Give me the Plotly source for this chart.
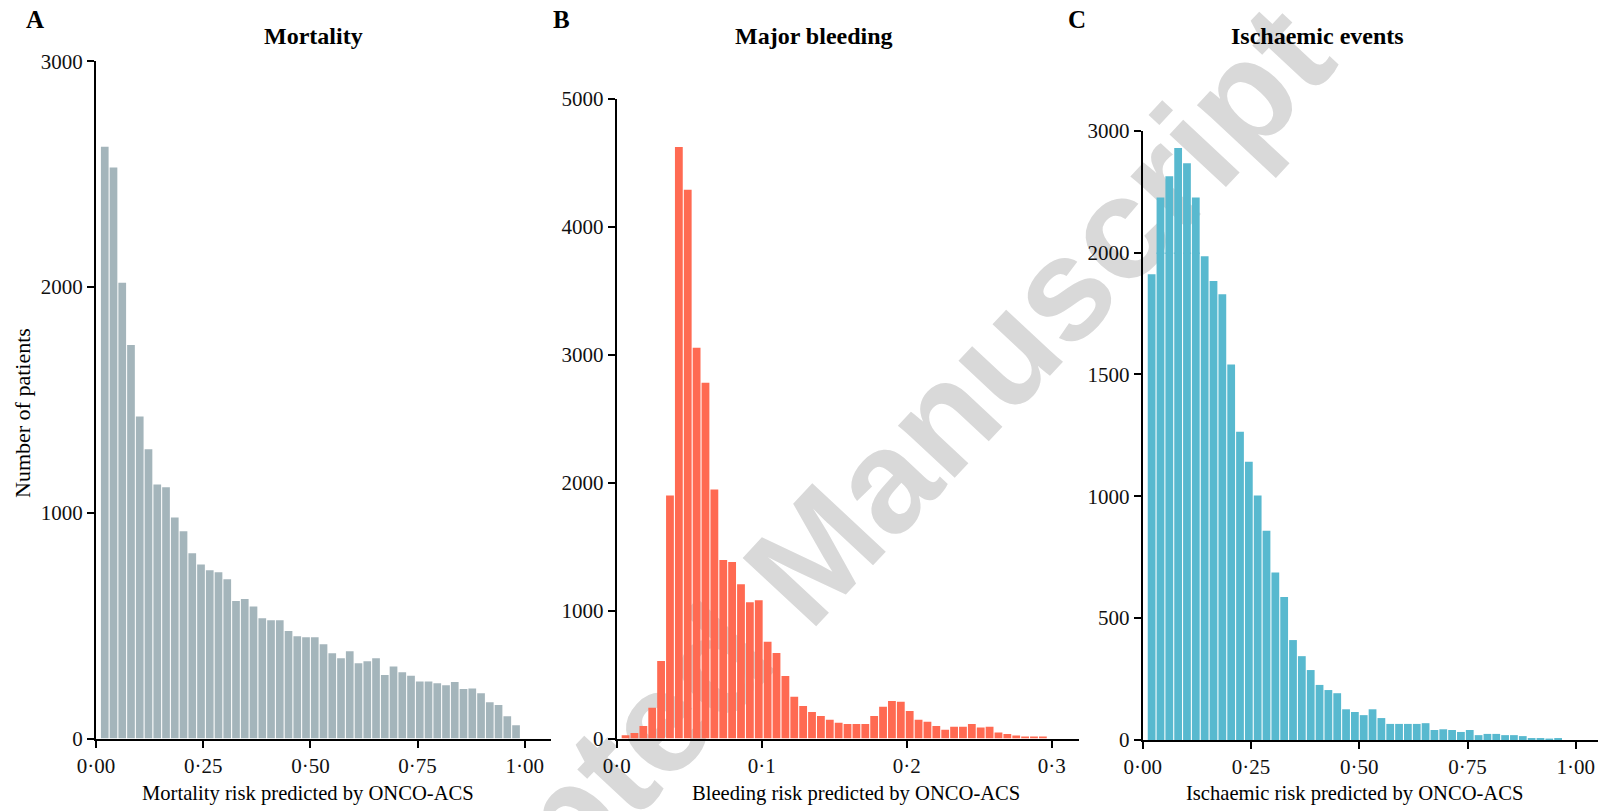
import plotly.graph_objects as go

# ---------------- data ----------------
risk_bins = [0.0204, 0.0408, 0.0612, 0.0816, 0.1020, 0.1224, 0.1429, 0.1633, 0.1837, 0.2041,
             0.2245, 0.2449, 0.2653, 0.2857, 0.3061, 0.3265, 0.3469, 0.3673, 0.3878, 0.4082,
             0.4286, 0.4490, 0.4694, 0.4898, 0.5102, 0.5306, 0.5510, 0.5714, 0.5918, 0.6122,
             0.6327, 0.6531, 0.6735, 0.6939, 0.7143, 0.7347, 0.7551, 0.7755, 0.7959, 0.8163,
             0.8367, 0.8571, 0.8776, 0.8980, 0.9184, 0.9388, 0.9592, 0.9796]

bleeding_bins = [0.00612, 0.01224, 0.01837, 0.02449, 0.03061, 0.03673, 0.04286, 0.04898, 0.05510, 0.06122,
                 0.06735, 0.07347, 0.07959, 0.08571, 0.09184, 0.09796, 0.10408, 0.11020, 0.11633, 0.12245,
                 0.12857, 0.13469, 0.14082, 0.14694, 0.15306, 0.15918, 0.16531, 0.17143, 0.17755, 0.18367,
                 0.18980, 0.19592, 0.20204, 0.20816, 0.21429, 0.22041, 0.22653, 0.23265, 0.23878, 0.24490,
                 0.25102, 0.25714, 0.26327, 0.26939, 0.27551, 0.28163, 0.28776, 0.29388]

mortality_counts = [2622, 2530, 2019, 1743, 1427, 1281, 1125, 1113, 979, 918,
                    821, 771, 745, 736, 705, 609, 618, 585, 533, 524,
                    524, 476, 453, 448, 448, 418, 378, 356, 387, 333,
                    342, 356, 281, 319, 293, 278, 253, 253, 245, 236,
                    250, 219, 222, 201, 161, 148, 99, 59]

bleeding_counts = [26, 42, 98, 241, 606, 1899, 4622, 4287, 3052, 2779,
                   1945, 1394, 1378, 1205, 1065, 1081, 756, 668, 489, 326,
                   254, 208, 176, 147, 124, 114, 114, 114, 176, 248,
                   293, 287, 215, 147, 130, 98, 68, 91, 91, 114,
                   85, 91, 46, 36, 23, 13, 13, 10]

ischaemic_counts = [1911, 2452, 2627, 2858, 2733, 2452, 1985, 1883, 1829, 1541,
                    1265, 1142, 1003, 859, 687, 587, 410, 344, 287, 226,
                    205, 192, 126, 115, 102, 126, 90, 66, 66, 66,
                    66, 69, 41, 44, 41, 33, 41, 20, 25, 25,
                    20, 20, 16, 8, 8, 3, 8, 0]

risk_ticks = [0, 0.25, 0.5, 0.75, 1.0]
risk_tick_labels = ["0·00", "0·25", "0·50", "0·75", "1·00"]
bleed_ticks = [0, 0.1, 0.2, 0.3]
bleed_tick_labels = ["0·0", "0·1", "0·2", "0·3"]

# ---------------- styling ----------------
W, H = 1601, 811
SERIF = "Liberation Serif"
C_MORT = "#a4b5bb"
C_BLEED = "#ff6a52"
C_ISCH = "#58b9cf"
WM = "#d9d9d9"

def px_x(p):
    return p / W

def px_y(p):
    return 1 - p / H

fig = go.Figure()

fig.add_trace(go.Bar(x=risk_bins, y=mortality_counts, marker=dict(color=C_MORT, line=dict(width=0)),
                     xaxis="x", yaxis="y", showlegend=False))
fig.add_trace(go.Bar(x=bleeding_bins, y=bleeding_counts, marker=dict(color=C_BLEED, line=dict(width=0)),
                     xaxis="x2", yaxis="y2", showlegend=False))
fig.add_trace(go.Bar(x=risk_bins, y=ischaemic_counts, marker=dict(color=C_ISCH, line=dict(width=0)),
                     xaxis="x3", yaxis="y3", showlegend=False))
fig.add_trace(go.Bar(x=risk_bins, y=ischaemic_counts, marker=dict(color=C_ISCH, line=dict(width=0)),
                     xaxis="x4", yaxis="y4", showlegend=False))

axis_common = dict(showline=True, linecolor="black", linewidth=2, ticks="outside", ticklen=7,
                   tickwidth=2, tickcolor="black", showgrid=False, zeroline=False, automargin=False,
                   tickfont=dict(family=SERIF, size=21, color="#111111"))

baseAB = 738.5
baseC = 740.0
c_top = 130.7
c_mid = baseC - (baseC - c_top) * 4 / 5
seg_px = c_mid - c_top               # pixels used by the 2000-3000 segment
overlap = 1.5                        # tiny overlap to avoid a seam between the two segments

fig.update_layout(
    width=W, height=H,
    margin=dict(l=0, r=0, t=0, b=0, pad=0, autoexpand=False),
    paper_bgcolor="white", plot_bgcolor="rgba(0,0,0,0)",
    bargap=0.12,
    xaxis=dict(domain=[px_x(96), px_x(550.5)], range=[0, 1.06], anchor="y",
               tickvals=risk_ticks, ticktext=risk_tick_labels, **axis_common),
    yaxis=dict(domain=[px_y(baseAB), px_y(61.3)], range=[0, 3000], anchor="x",
               tickvals=[0, 1000, 2000, 3000], **axis_common),
    xaxis2=dict(domain=[px_x(616.7), px_x(1079)], range=[0, 0.3188], anchor="y2",
                tickvals=bleed_ticks, ticktext=bleed_tick_labels, **axis_common),
    yaxis2=dict(domain=[px_y(baseAB), px_y(98.5)], range=[0, 5000], anchor="x2",
                tickvals=[0, 1000, 2000, 3000, 4000, 5000], **axis_common),
    xaxis3=dict(domain=[px_x(1142.8), px_x(1598)], range=[0, 1.0513], anchor="y3",
                tickvals=risk_ticks, ticktext=risk_tick_labels, **axis_common),
    yaxis3=dict(domain=[px_y(baseC), px_y(c_mid)], range=[0, 2000], anchor="x3",
                tickvals=[0, 500, 1000, 1500, 2000], **axis_common),
    xaxis4=dict(domain=[px_x(1142.8), px_x(1598)], range=[0, 1.0513], anchor="y4",
                matches="x3", visible=False),
    yaxis4=dict(domain=[px_y(c_mid + overlap), px_y(c_top)],
                range=[2000 - 1000 * overlap / seg_px, 3000], anchor="x4",
                tickvals=[3000], **axis_common),
)

# watermark, drawn beneath the plots
wx, wy = 790, 560
fig.add_shape(type="rect", xref="paper", yref="paper",
              x0=px_x(wx) - 0.05, x1=px_x(wx) + 0.05, y0=px_y(wy) - 0.05, y1=px_y(wy) + 0.05,
              line=dict(width=0), fillcolor="rgba(0,0,0,0)", layer="below",
              label=dict(text="Accepted Manuscript", textangle=-47, textposition="middle center",
                         font=dict(family="Liberation Sans", size=146, color=WM, weight="bold")))

def ann(text, x, y, size, bold=False, angle=0):
    fig.add_annotation(text=("<b>%s</b>" % text) if bold else text, x=x, y=y, xref="paper", yref="paper",
                       showarrow=False, xanchor="center", yanchor="middle", textangle=angle,
                       font=dict(family=SERIF, size=size, color="black"))

ann("A", px_x(35), px_y(20), 25, bold=True)
ann("B", px_x(561.6), px_y(20), 25, bold=True)
ann("C", px_x(1077), px_y(20), 25, bold=True)
ann("Mortality", px_x(313.5), px_y(36), 24, bold=True)
ann("Major bleeding", px_x(813.8), px_y(36), 24, bold=True)
ann("Ischaemic events", px_x(1317), px_y(36), 24, bold=True)
ann("Mortality risk predicted by ONCO-ACS", px_x(308), px_y(793), 20.6)
ann("Bleeding risk predicted by ONCO-ACS", px_x(855.6), px_y(793), 20.6)
ann("Ischaemic risk predicted by ONCO-ACS", px_x(1354), px_y(793), 20.6)
ann("Number of patients", px_x(22.5), px_y(413.5), 22, angle=-90)

fig.write_html("out.html")
